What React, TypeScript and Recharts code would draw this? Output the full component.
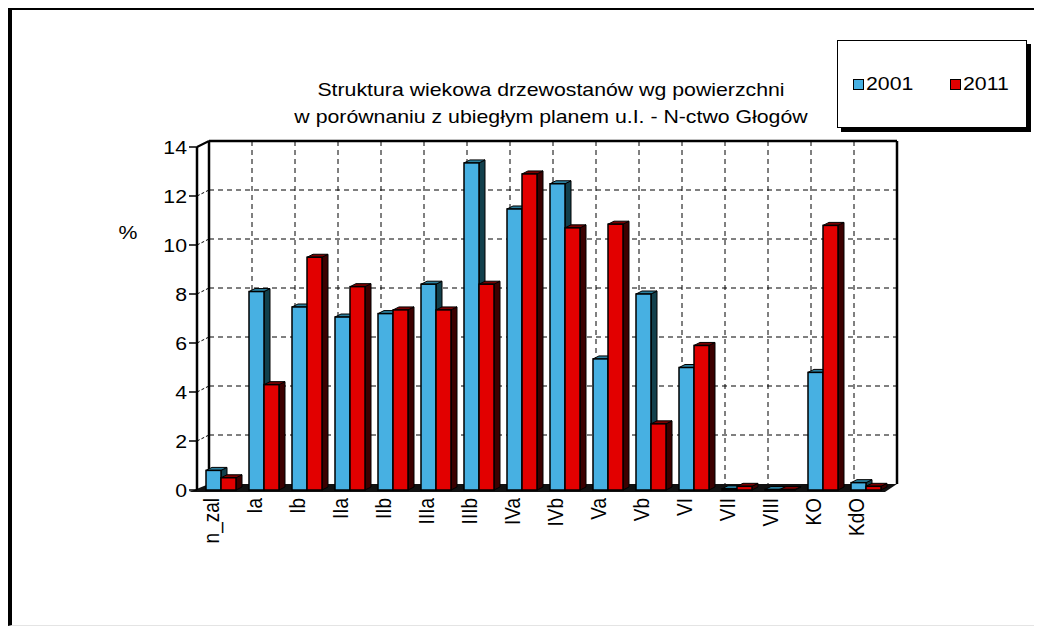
import React from 'react';
import * as R from 'recharts';

const { BarChart, Bar, XAxis, YAxis } = R as any;

// ---------- data ----------
const categories = ['n_zal', 'Ia', 'Ib', 'IIa', 'IIb', 'IIIa', 'IIIb', 'IVa', 'IVb', 'Va', 'Vb', 'VI', 'VII', 'VIII', 'KO', 'KdO'];
const values2001 = [0.8, 8.1, 7.47, 7.06, 7.2, 8.4, 13.35, 11.47, 12.5, 5.35, 8.0, 5.0, 0.05, 0.02, 4.8, 0.3];
const values2011 = [0.5, 4.3, 9.5, 8.3, 7.35, 7.35, 8.4, 12.9, 10.7, 10.85, 2.7, 5.9, 0.15, 0.02, 10.8, 0.15];
const seriesNames = ['2001', '2011'];
const yTicks = [0, 2, 4, 6, 8, 10, 12, 14];
const titleLines = ['Struktura wiekowa drzewostanów wg powierzchni', 'w porównaniu z ubiegłym planem u.I. - N-ctwo Głogów'];
const yLabel = '%';

const data = categories.map((c, i) => ({ cat: c, s2001: values2001[i], s2011: values2011[i] }));

// ---------- style ----------
const FONT = '"Liberation Sans", Arial, sans-serif';
const FS = 19;
const SX = 1.12;
const WX = 12; // wall depth x
const WY = -6; // wall depth y
const DX = 6; // bar depth
const DY = 3;
const SHIFT = 2;
const CW = 1034;
const CH = 619;
const MARGIN = { top: 139, right: 157, bottom: 77, left: 149 };
const YMAX = 14;

const COLORS = {
  blue: { front: '#47B0E2', side: '#12404c', top: '#2b7f9e' },
  red: { front: '#E20000', side: '#3c0000', top: '#7a0000' },
};

function Bar3D(props: any) {
  const { x, y, width, height, c } = props;
  if (x == null || y == null) return null;
  const h = Math.max(height || 0, 0);
  const x0 = x + SHIFT;
  const w = width;
  return (
    <g>
      <polygon
        points={`${x0 + w},${y} ${x0 + w + DX},${y - DY} ${x0 + w + DX},${y + h - DY} ${x0 + w},${y + h}`}
        fill={c.side}
        stroke="#000"
        strokeWidth={1}
      />
      <polygon
        points={`${x0},${y} ${x0 + DX},${y - DY} ${x0 + w + DX},${y - DY} ${x0 + w},${y}`}
        fill={c.top}
        stroke="#000"
        strokeWidth={1}
      />
      <rect x={x0} y={y} width={w} height={h} fill={c.front} stroke="#000" strokeWidth={1.5} />
    </g>
  );
}

const usePA: any = (R as any).usePlotArea || (() => null);

function Walls() {
  const pa = usePA();
  const px = pa?.x ?? MARGIN.left + 40;
  const py = pa?.y ?? MARGIN.top;
  const pw = pa?.width ?? CW - MARGIN.left - 40 - MARGIN.right;
  const ph = pa?.height ?? CH - MARGIN.top - MARGIN.bottom - 60;
  const yOf = (v: number) => py + ph * (1 - v / YMAX);
  const n = categories.length;
  const vlines = [];
  for (let i = 1; i < n; i++) {
    const xx = px + WX + (i * pw) / n;
    vlines.push(<line key={'v' + i} x1={xx} y1={py + WY} x2={xx} y2={py + ph + WY} stroke="#000" strokeWidth={1} strokeDasharray="5 4" />);
  }
  const hlines = yTicks.filter((t) => t > 0 && t < YMAX).map((t) => (
    <g key={'h' + t}>
      <line x1={px + WX} y1={yOf(t) + WY} x2={px + pw + WX} y2={yOf(t) + WY} stroke="#000" strokeWidth={1} strokeDasharray="5 4" />
      <line x1={px} y1={yOf(t)} x2={px + WX} y2={yOf(t) + WY} stroke="#000" strokeWidth={1} strokeDasharray="3 2" />
    </g>
  ));
  return (
    <g>
      {vlines}
      {hlines}
      <line x1={px + WX} y1={py + WY} x2={px + pw + WX} y2={py + WY} stroke="#000" strokeWidth={2.5} />
      <line x1={px + pw + WX} y1={py + WY} x2={px + pw + WX} y2={py + ph + WY} stroke="#000" strokeWidth={2.5} />
      <line x1={px + WX} y1={py + WY} x2={px + WX} y2={py + ph + WY} stroke="#000" strokeWidth={2.5} />
      <line x1={px} y1={py} x2={px + WX} y2={py + WY} stroke="#000" strokeWidth={2} />
      <polygon
        points={`${px - 8},${py + ph + 2} ${px + pw},${py + ph + 2} ${px + pw + WX},${py + ph + WY} ${px + WX},${py + ph + WY}`}
        fill="#111"
      />
    </g>
  );
}

function XTick(props: any) {
  const { x, y, payload } = props;
  return (
    <text
      transform={`translate(${x - 7},${y + 4}) scale(${SX},1) rotate(-90)`}
      textAnchor="end"
      dominantBaseline="central"
      fontSize={FS}
      fontFamily={FONT}
      fill="#000"
    >
      {payload.value}
    </text>
  );
}

function YTick(props: any) {
  const { x, y, payload } = props;
  return (
    <text
      transform={`translate(${x},${y}) scale(${SX},1)`}
      textAnchor="end"
      dominantBaseline="central"
      fontSize={FS}
      fontFamily={FONT}
      fill="#000"
    >
      {payload.value}
    </text>
  );
}

export default function App() {
  return (
    <div style={{ position: 'relative', width: CW, height: CH, background: '#fff', fontFamily: FONT }}>
      <div
        style={{
          position: 'absolute',
          left: 0,
          top: -1,
          width: CW,
          height: CH,
          boxSizing: 'border-box',
          borderLeft: '4px solid #000',
          borderTop: '3px solid #000',
          borderRight: '1px solid #e4e4e4',
          borderBottom: '1px solid #e4e4e4',
        }}
      />
      <div style={{ position: 'absolute', left: 0, top: 0 }}>
        <BarChart width={CW} height={CH} data={data} margin={MARGIN} barGap={0} barSize={15}>
          <Walls />
          <XAxis
            dataKey="cat"
            interval={0}
            axisLine={false}
            tickLine={false}
            tickSize={4}
            tickMargin={0}
            height={60}
            tick={<XTick />}
          />
          <YAxis
            domain={[0, YMAX]}
            ticks={yTicks}
            width={40}
            axisLine={{ stroke: '#000', strokeWidth: 2.5 }}
            tickLine={{ stroke: '#000', strokeWidth: 1.5 }}
            tickSize={8}
            tickMargin={2}
            tick={<YTick />}
            interval={0}
          />
          <Bar dataKey="s2001" name={seriesNames[0]} isAnimationActive={false} shape={(p: any) => <Bar3D {...p} c={COLORS.blue} />} />
          <Bar dataKey="s2011" name={seriesNames[1]} isAnimationActive={false} shape={(p: any) => <Bar3D {...p} c={COLORS.red} />} />
        </BarChart>
      </div>
      <div
        style={{
          position: 'absolute',
          left: 120,
          top: 225,
          transform: `translate(-50%,-50%) scaleX(${SX})`,
          fontSize: FS,
          lineHeight: '20px',
        }}
      >
        {yLabel}
      </div>
      <div
        style={{
          position: 'absolute',
          left: 543,
          top: 68,
          transform: `translateX(-50%) scaleX(${SX})`,
          fontSize: FS,
          lineHeight: '27px',
          textAlign: 'center',
          whiteSpace: 'nowrap',
        }}
      >
        {titleLines.map((t) => (
          <div key={t}>{t}</div>
        ))}
      </div>
      <div
        style={{
          position: 'absolute',
          left: 829,
          top: 32,
          width: 190,
          height: 88,
          boxSizing: 'border-box',
          border: '1.5px solid #000',
          boxShadow: '4px 4px 0 #000',
          background: '#fff',
        }}
      >
        {[
          { name: seriesNames[0], c: COLORS.blue.front, l: 15 },
          { name: seriesNames[1], c: COLORS.red.front, l: 112 },
        ].map((it) => (
          <div key={it.name} style={{ position: 'absolute', left: it.l, top: 31, height: 24, display: 'flex', alignItems: 'center' }}>
            <div style={{ width: 9, height: 9, background: it.c, border: '1.5px solid #000' }} />
            <div style={{ marginLeft: 2, fontSize: FS, transform: `scaleX(${SX})`, transformOrigin: 'left center', lineHeight: '24px' }}>{it.name}</div>
          </div>
        ))}
      </div>
    </div>
  );
}
